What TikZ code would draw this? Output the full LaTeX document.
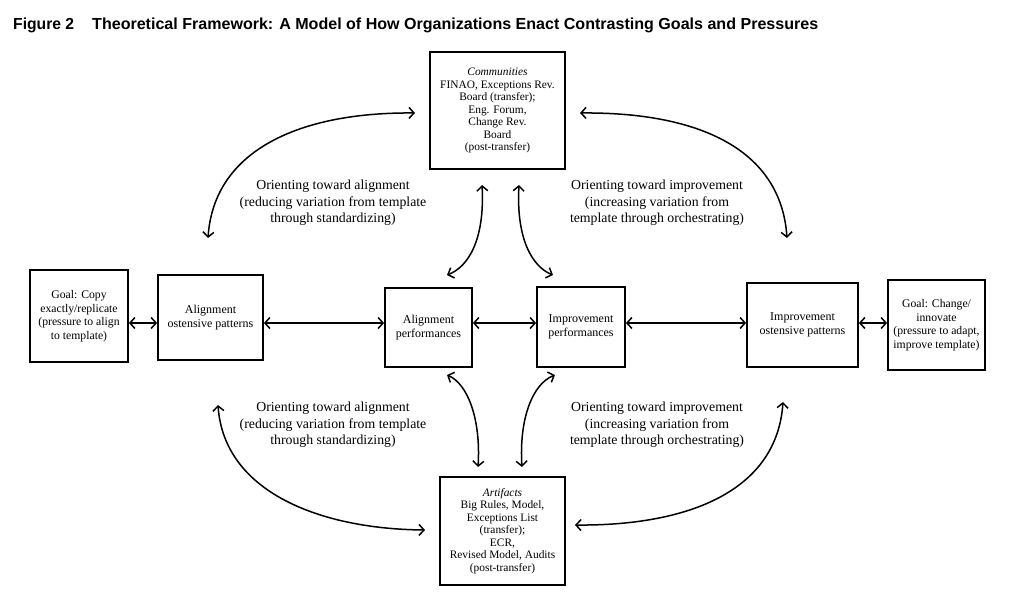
\documentclass[tikz,border=0pt]{standalone}
\usepackage{fontspec}
\setmainfont{Liberation Serif}
\newfontfamily\titlefont{Liberation Sans}
\usetikzlibrary{arrows.meta}
\begin{document}
\begin{tikzpicture}[x=1pt,y=-1pt,
  box/.style={draw, line width=1.8pt, align=center, inner sep=0pt},
  bigfont/.style={font=\fontsize{11.4}{12.5}\selectfont},
  midfont/.style={font=\fontsize{12}{14}\selectfont},
  goalfont/.style={font=\fontsize{11.7}{13.5}\selectfont},
  lbl/.style={align=center, inner sep=0pt, font=\fontsize{13.8}{16.5}\selectfont},
  tip/.tip={Straight Barb[length=5pt,width=11pt]},
  dbl/.style={line width=1.5pt, tip-tip},
  ttl/.style={anchor=base west, inner sep=0pt, font=\titlefont\bfseries\fontsize{16}{19}\selectfont}
]
\useasboundingbox (0,0) rectangle (1013,604);

% title
\node[ttl] (t1) at (13,30) {\resizebox{61pt}{\height}{Figure 2}};
\node[ttl] (t2) at (92,30) {\resizebox{726pt}{\height}{Theoretical Framework: A Model of How Organizations Enact Contrasting Goals and Pressures}};

% boxes
\node[box, bigfont, minimum width=135pt, minimum height=117pt] (comm) at (497.5,110.5)
  {\textit{Communities}\\FINAO, Exceptions Rev.\\Board (transfer);\\Eng. Forum,\\Change Rev.\\Board\\(post-transfer)};
\node[box, bigfont, minimum width=125pt, minimum height=108pt] (art) at (502.5,531)
  {\textit{Artifacts}\\Big Rules, Model,\\Exceptions List\\(transfer);\\ECR,\\Revised Model, Audits\\(post-transfer)};
\node[box, goalfont, minimum width=98pt, minimum height=92pt] (goalL) at (79,316)
  {Goal: Copy\\exactly/replicate\\(pressure to align\\to template)};
\node[box, midfont, minimum width=105pt, minimum height=85pt] (alos) at (210.5,317.5)
  {Alignment\\ostensive patterns};
\node[box, midfont, minimum width=87pt, minimum height=79pt] (alperf) at (428.5,327.5)
  {Alignment\\performances};
\node[box, midfont, minimum width=88pt, minimum height=80pt] (imperf) at (581,327)
  {Improvement\\performances};
\node[box, midfont, minimum width=111pt, minimum height=84pt] (imos) at (802.5,325)
  {Improvement\\ostensive patterns};
\node[box, goalfont, minimum width=97pt, minimum height=90pt] (goalR) at (936.5,325)
  {Goal: Change/\\innovate\\(pressure to adapt,\\improve template)};

% labels
\node[lbl] (la1) at (333,203) {Orienting toward alignment\\(reducing variation from template\\through standardizing)};
\node[lbl] (li1) at (657,203) {Orienting toward improvement\\(increasing variation from\\template through orchestrating)};
\node[lbl] (la2) at (333,425) {Orienting toward alignment\\(reducing variation from template\\through standardizing)};
\node[lbl] (li2) at (657,425) {Orienting toward improvement\\(increasing variation from\\template through orchestrating)};

% horizontal connectors
\coordinate (row) at (0,323);
\draw[dbl] (goalL.east |- row) -- (alos.west |- row);
\draw[dbl] (alos.east |- row) -- (alperf.west |- row);
\draw[dbl] (alperf.east |- row) -- (imperf.west |- row);
\draw[dbl] (imperf.east |- row) -- (imos.west |- row);
\draw[dbl] (imos.east |- row) -- (goalR.west |- row);

% large curved connectors
\coordinate (tlA) at (208,238); \coordinate (tlB) at (415,113);
\draw[dbl] (tlA) .. controls (214,150) and (300,112) .. (tlB);
\coordinate (trA) at (580,113); \coordinate (trB) at (787,238);
\draw[dbl] (trA) .. controls (700,112) and (781,150) .. (trB);
\coordinate (blA) at (218,405); \coordinate (blB) at (425,530);
\draw[dbl] (blA) .. controls (224,492) and (320,529) .. (blB);
\coordinate (brA) at (575,525); \coordinate (brB) at (783,402);
\draw[dbl] (brA) .. controls (690,526) and (777,490) .. (brB);

% small S-curved connectors
\coordinate (s1A) at (482,185); \coordinate (s1B) at (447,275);
\draw[dbl] (s1A) .. controls (485,240) and (468,267) .. (s1B);
\coordinate (s2A) at (519,185); \coordinate (s2B) at (553,275);
\draw[dbl] (s2A) .. controls (516,240) and (533,267) .. (s2B);
\coordinate (s3A) at (447,375); \coordinate (s3B) at (478,467);
\draw[dbl] (s3A) .. controls (468,384) and (481,420) .. (s3B);
\coordinate (s4A) at (555,375); \coordinate (s4B) at (522,467);
\draw[dbl] (s4A) .. controls (532,384) and (519,420) .. (s4B);
\end{tikzpicture}
\end{document}
